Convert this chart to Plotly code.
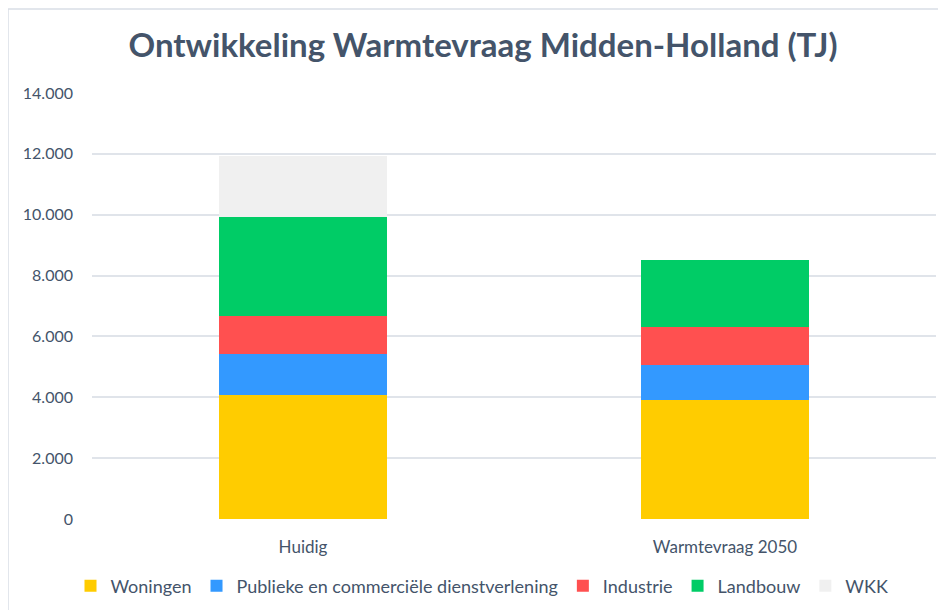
import plotly.graph_objects as go

categories = ["Huidig", "Warmtevraag 2050"]
series_names = ["Woningen", "Publieke en commerciële dienstverlening", "Industrie", "Landbouw", "WKK"]
woningen = [4060, 3910]
publieke = [1350, 1140]
industrie = [1270, 1270]
landbouw = [3250, 2190]
wkk = [2010, 0]
y_ticks = [0, 2000, 4000, 6000, 8000, 10000, 12000, 14000]

values = [woningen, publieke, industrie, landbouw, wkk]
colors = ["#FFCC00", "#3399FF", "#FF5050", "#00CC66", "#F0F0F0"]

text_color = "#44546A"
font_fam = "Lato, 'Open Sans', sans-serif"

fig = go.Figure()
for name, vals, col in zip(series_names, values, colors):
    fig.add_trace(go.Bar(name=name, x=categories, y=vals, marker=dict(color=col, line=dict(width=0))))

W, H = 946, 610
OFF = 8  # page offset of the figure
# target positions in screenshot pixels
plot_left, plot_right, plot_top, plot_bottom = 92, 936, 93, 519
ml = plot_left - OFF
mt = plot_top - OFF
pw = plot_right - plot_left
ph = plot_bottom - plot_top
mr = W - ml - pw
mb = H - mt - ph


def px_x(x):
    return (x - plot_left) / pw


def px_y(y):
    return (plot_bottom - y) / ph


fig.update_layout(
    width=W, height=H,
    barmode="stack", bargap=0.6,
    separators=",.",
    paper_bgcolor="white", plot_bgcolor="white",
    margin=dict(l=ml, r=mr, t=mt, b=mb, autoexpand=False),
    title=dict(text="<b>Ontwikkeling Warmtevraag Midden-Holland (TJ)</b>", x=px_x(483), xref="paper",
               xanchor="center", y=1 - (45 - OFF) / H, yanchor="middle",
               font=dict(family=font_fam, size=33, color=text_color)),
    font=dict(family=font_fam, color=text_color),
    xaxis=dict(showgrid=False, showline=False, ticks="", ticklabelstandoff=16,
               tickfont=dict(size=17, color=text_color)),
    yaxis=dict(range=[0, 14000], tickvals=y_ticks, tickformat=",d", showgrid=True,
               gridcolor="#E0E4EA", gridwidth=1.5, zeroline=False, showline=False,
               ticks="", ticklabelstandoff=18, tickfont=dict(size=16, color=text_color)),
    legend=dict(orientation="h", x=px_x(482), xanchor="center", y=px_y(586), yanchor="middle",
                font=dict(size=18, color=text_color), traceorder="normal", itemwidth=30,
                tracegroupgap=0),
    showlegend=True,
)

# chart outer border (left and top edges visible)
fig.add_shape(type="rect", xref="paper", yref="paper",
              x0=px_x(8), x1=px_x(W + 40),
              y0=px_y(H + 40), y1=px_y(9),
              line=dict(color="#D9DEE6", width=1.5), fillcolor="rgba(0,0,0,0)", layer="below")

fig.write_html("out.html")
